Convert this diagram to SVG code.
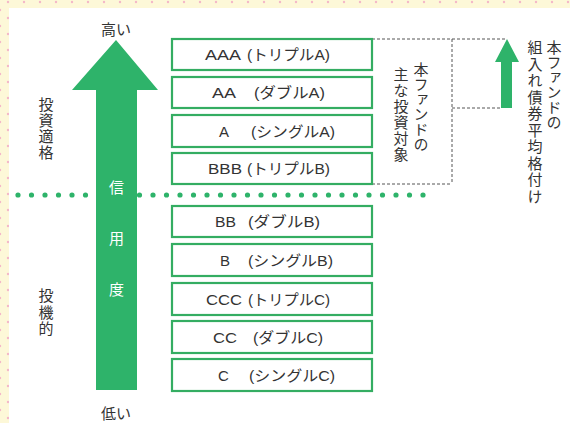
<svg xmlns="http://www.w3.org/2000/svg" width="570" height="423" viewBox="0 0 570 423">
  <defs>
    <pattern id="bgdots" x="0" y="0" width="16" height="16" patternUnits="userSpaceOnUse">
      <rect width="16" height="16" fill="#fdf8d8"/>
      <circle cx="8" cy="2" r="1.2" fill="#f4b8c8"/>
      <circle cx="0" cy="10" r="1.2" fill="#f4b8c8"/>
      <circle cx="16" cy="10" r="1.2" fill="#f4b8c8"/>
    </pattern>
    <style>
      .t { font-family: "Liberation Sans", "Noto Sans CJK JP", sans-serif; fill: #333; font-size: 15px; }
      .v { font-family: "Noto Sans CJK JP", sans-serif; fill: #333; font-size: 15px; writing-mode: vertical-rl; }
      .w { font-family: "Noto Sans CJK JP", sans-serif; fill: #fff; font-size: 15px; text-anchor: middle; }
      .box { fill: #fff; stroke: #34ad62; stroke-width: 2.2; }
      .dash { fill: none; stroke: #555; stroke-width: 1; stroke-dasharray: 3 2; }
      .green { fill: #2eb36a; }
    </style>
  </defs>

  <rect x="0" y="0" width="570" height="423" fill="url(#bgdots)"/>
  <rect x="9" y="8" width="561" height="415" fill="#fff"/>

  <g id="connectors">
    <line x1="18" y1="195" x2="424" y2="195" stroke="#2eb36a" stroke-width="5.2" stroke-linecap="round" stroke-dasharray="0 13.5"/>
    <path class="dash" d="M372,39 H506 M452,39 V184 M372,184 H452 M452,108 H501"/>
  </g>

  <g id="credit-arrow">
    <polygon class="green" points="116,40 158,90 137,90 137,390 96,390 96,90 72,90"/>
    <text class="w" x="116.5" y="193">信</text>
    <text class="w" x="116.5" y="244">用</text>
    <text class="w" x="116.5" y="295">度</text>
  </g>

  <g id="label-high"><text class="t" x="116" y="35" text-anchor="middle">高い</text></g>
  <g id="label-low"><text class="t" x="116" y="419" text-anchor="middle">低い</text></g>
  <g id="label-investment-grade"><text class="v" x="46" y="97" style="letter-spacing:1px">投資適格</text></g>
  <g id="label-speculative"><text class="v" x="46" y="288" style="letter-spacing:1.5px">投機的</text></g>

  <g id="box-AAA">
    <rect class="box" x="172" y="39" width="200" height="31"/>
    <text class="t" y="60"><tspan x="205" textLength="36" lengthAdjust="spacingAndGlyphs">AAA</tspan><tspan x="247" textLength="83" lengthAdjust="spacingAndGlyphs">(トリプルA)</tspan></text>
  </g>
  <g id="box-AA">
    <rect class="box" x="172" y="77" width="200" height="31"/>
    <text class="t" y="98"><tspan x="212" textLength="24" lengthAdjust="spacingAndGlyphs">AA</tspan><tspan x="254" textLength="71" lengthAdjust="spacingAndGlyphs">(ダブルA)</tspan></text>
  </g>
  <g id="box-A">
    <rect class="box" x="172" y="115" width="200" height="32"/>
    <text class="t" y="136.5"><tspan x="219">A</tspan><tspan x="251" textLength="84" lengthAdjust="spacingAndGlyphs">(シングルA)</tspan></text>
  </g>
  <g id="box-BBB">
    <rect class="box" x="172" y="153" width="200" height="31"/>
    <text class="t" y="174"><tspan x="208" textLength="34" lengthAdjust="spacingAndGlyphs">BBB</tspan><tspan x="247" textLength="83" lengthAdjust="spacingAndGlyphs">(トリプルB)</tspan></text>
  </g>
  <g id="box-BB">
    <rect class="box" x="172" y="206" width="200" height="31"/>
    <text class="t" y="227"><tspan x="215" textLength="21" lengthAdjust="spacingAndGlyphs">BB</tspan><tspan x="248" textLength="72" lengthAdjust="spacingAndGlyphs">(ダブルB)</tspan></text>
  </g>
  <g id="box-B">
    <rect class="box" x="172" y="244" width="200" height="32"/>
    <text class="t" y="265.5"><tspan x="220">B</tspan><tspan x="248" textLength="85" lengthAdjust="spacingAndGlyphs">(シングルB)</tspan></text>
  </g>
  <g id="box-CCC">
    <rect class="box" x="172" y="283" width="200" height="32"/>
    <text class="t" y="304.5"><tspan x="206" textLength="36" lengthAdjust="spacingAndGlyphs">CCC</tspan><tspan x="248" textLength="82" lengthAdjust="spacingAndGlyphs">(トリプルC)</tspan></text>
  </g>
  <g id="box-CC">
    <rect class="box" x="172" y="321" width="200" height="32"/>
    <text class="t" y="342.5"><tspan x="213" textLength="24" lengthAdjust="spacingAndGlyphs">CC</tspan><tspan x="253" textLength="70" lengthAdjust="spacingAndGlyphs">(ダブルC)</tspan></text>
  </g>
  <g id="box-C">
    <rect class="box" x="172" y="359" width="200" height="32"/>
    <text class="t" y="380.5"><tspan x="218">C</tspan><tspan x="249" textLength="86" lengthAdjust="spacingAndGlyphs">(シングルC)</tspan></text>
  </g>

  <g id="label-main-target">
    <text class="v" x="421" y="62">本ファンドの</text>
    <text class="v" x="401" y="67" style="letter-spacing:1px">主な投資対象</text>
  </g>

  <g id="avg-rating">
    <polygon class="green" points="507,39 519,62 512,62 512,108 501,108 501,62 495,62"/>
    <text class="v" x="554" y="40">本ファンドの</text>
    <text class="v" x="535" y="40" style="letter-spacing:1.5px">組入れ債券平均格付け</text>
  </g>
</svg>
